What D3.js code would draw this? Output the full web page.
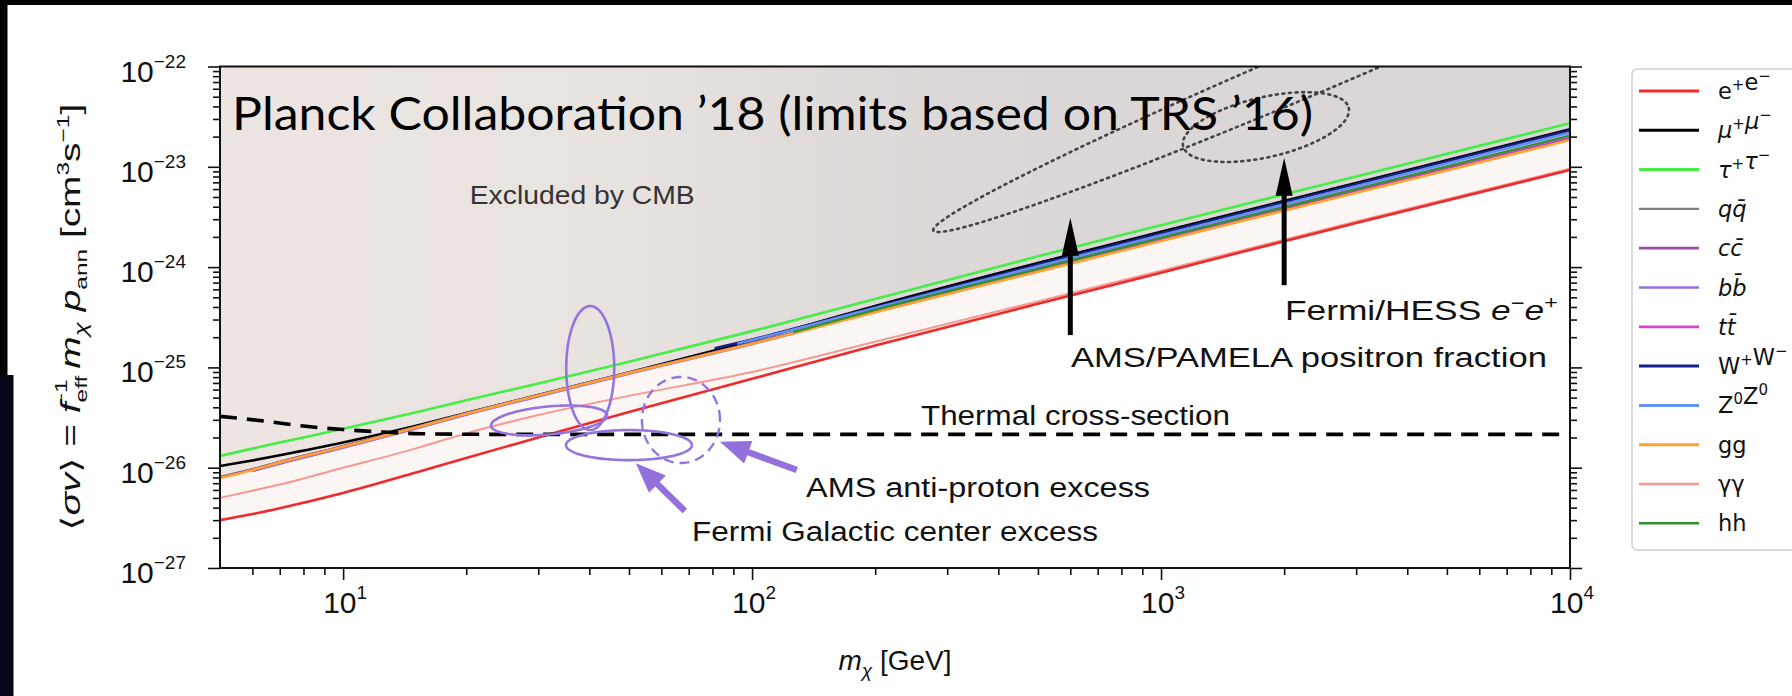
<!DOCTYPE html>
<html><head><meta charset="utf-8">
<script src="https://cdn.jsdelivr.net/npm/d3@7"></script>
<style>body{margin:0;background:#fff;} svg{display:block;}</style>
</head><body>
<svg id="c" width="1792" height="696"></svg>
<script>
// ---------------- DATA ----------------
const massGrid = [5, 6, 7, 10, 15, 20, 30, 50, 100, 200, 500, 1000, 3000, 10000];
const eeValues     = [3.0e-27, 3.45e-27, 3.95e-27, 5.6e-27, 8.9e-27, 1.25e-26, 2.0e-26, 3.6e-26, 7.7e-26, 1.65e-25, 4.3e-25, 8.8e-25, 2.75e-24, 9.3e-24];
const mumuValues   = [1.04e-26, 1.18e-26, 1.33e-26, 1.78e-26, 2.6e-26, 3.5e-26, 5.3e-26, 8.9e-26, 1.85e-25, 4.1e-25, 1.1e-24, 2.25e-24, 6.9e-24, 2.37e-23];
const tautauValues = [1.31e-26, 1.55e-26, 1.78e-26, 2.45e-26, 3.55e-26, 4.7e-26, 6.9e-26, 1.14e-25, 2.3e-25, 4.8e-25, 1.28e-24, 2.62e-24, 8.0e-24, 2.72e-23];
const qqValues     = [8.1e-27, 9.7e-27, 1.15e-26, 1.65e-26, 2.55e-26, 3.5e-26, 5.35e-26, 8.9e-26, 1.75e-25, 3.65e-25, 9.4e-25, 1.9e-24, 5.8e-24, 1.95e-23];
const ccValues     = [8.0e-27, 9.6e-27, 1.14e-26, 1.64e-26, 2.52e-26, 3.47e-26, 5.3e-26, 8.85e-26, 1.74e-25, 3.6e-25, 9.3e-25, 1.88e-24, 5.75e-24, 1.93e-23];
const ggValues     = [7.9e-27, 9.5e-27, 1.13e-26, 1.62e-26, 2.5e-26, 3.45e-26, 5.25e-26, 8.8e-26, 1.72e-25, 3.55e-25, 9.0e-25, 1.82e-24, 5.5e-24, 1.85e-23];
const gamgamValues = [5.0e-27, 5.9e-27, 6.8e-27, 1.0e-26, 1.55e-26, 2.2e-26, 3.35e-26, 5.2e-26, 9.0e-26, 1.8e-25, 4.55e-25, 9.2e-25, 2.85e-24, 9.6e-24];
const bbMass   = [6, 7, 10, 15, 20, 30, 50, 100, 200, 500, 1000, 3000, 10000];
const bbValues = [9.2e-27, 1.09e-26, 1.57e-26, 2.43e-26, 3.35e-26, 5.1e-26, 8.6e-26, 1.7e-25, 3.6e-25, 9.5e-25, 1.95e-24, 6.0e-24, 2.0e-23];
const ttMass   = [175, 200, 300, 500, 1000, 3000, 10000];
const ttValues = [3.3e-25, 3.8e-25, 5.7e-25, 9.7e-25, 1.97e-24, 6.0e-24, 2.0e-23];
const wwMass   = [81, 100, 200, 500, 1000, 3000, 10000];
const wwValues = [1.55e-25, 1.9e-25, 4.0e-25, 1.06e-24, 2.18e-24, 6.7e-24, 2.3e-23];
const zzMass   = [92, 100, 200, 500, 1000, 3000, 10000];
const zzValues = [1.72e-25, 1.87e-25, 3.9e-25, 1.02e-24, 2.08e-24, 6.4e-24, 2.19e-23];
const hhMass   = [126, 200, 500, 1000, 3000, 10000];
const hhValues = [2.25e-25, 3.75e-25, 9.6e-25, 1.96e-24, 6.0e-24, 2.05e-23];

const thermalMass   = [5, 6.5, 8, 10, 12.5, 15.5, 24, 10000];
const thermalValues = [3.25e-26, 2.9e-26, 2.6e-26, 2.4e-26, 2.27e-26, 2.18e-26, 2.15e-26, 2.15e-26];

// legend labels: [base, superscript] pairs
const channelLabels = [
  [["e", "+"], ["e", "\u2212"]], [["\u03BC", "+"], ["\u03BC", "\u2212"]], [["\u03C4", "+"], ["\u03C4", "\u2212"]],
  [["qq\u0304", ""]], [["cc\u0304", ""]], [["bb\u0304", ""]], [["tt\u0304", ""]],
  [["W", "+"], ["W", "\u2212"]], [["Z", "0"], ["Z", "0"]], [["gg", ""]], [["\u03B3\u03B3", ""]], [["hh", ""]]
];

// excess regions: centre (mass, <sigma v>) and two semi-axes in decades (log10 m, log10 sigma v)
const ellipseNames       = ["gcTall", "gcWide", "gcLow", "pbar", "positron", "electron"];
const ellipseCenterMass  = [40.2, 31.9, 50.0, 67.0, 2445, 1805];
const ellipseCenterSigma = [9.86e-26, 2.96e-26, 1.68e-26, 2.99e-26, 1e-22, 2.49e-23];
const ellipseAxis1 = [[0.0587, 0], [0.142, 0.05], [0.154, 0], [0.0954, 0], [0.945, 1.636], [0.2025, 0.1906]];
const ellipseAxis2 = [[0, 0.618], [0, 0.14], [0, 0.15], [0, 0.429], [0.0229, -0.2203], [0.0165, -0.2913]];

// arrows (tail -> tip) in data coordinates
const arrowNames      = ["positron", "electron", "pbar", "gc"];
const arrowTailMass   = [600, 2000, 128.7, 68.5];
const arrowTailSigma  = [2.1e-25, 6.6e-25, 9.5e-27, 3.7e-27];
const arrowTipMass    = [600, 2000, 83.5, 52.0];
const arrowTipSigma   = [3.1e-24, 1.23e-23, 1.81e-26, 1.11e-26];

// annotation texts anchored in data coordinates (left, baseline)
const noteTexts = ["Excluded by CMB", "Thermal cross-section", "AMS/PAMELA positron fraction", "AMS anti-proton excess", "Fermi Galactic center excess"];
const noteMass  = [20.4, 258.8, 602, 135.5, 71.3];
const noteSigma = [4.3e-24, 2.67e-26, 1.01e-25, 5.1e-27, 1.86e-27];

const xMajorTicks = [10, 100, 1000, 10000];
const yMajorTicks = [1e-27, 1e-26, 1e-25, 1e-24, 1e-23, 1e-22];

// ---------------- DRAWING ----------------
const svg = d3.select("#c");
const W = 1792, H = 696;
const FONT = "'Liberation Sans', 'DejaVu Sans', Arial, sans-serif";

const x = d3.scaleLog().domain([5, 1e4]).range([220, 1570]);
const y = d3.scaleLog().domain([1e-27, 1e-22]).range([568, 66.5]);
const [x0, x1] = x.range(); const [yb, yt] = y.range();

svg.append("rect").attr("width", W).attr("height", H).attr("fill", "#fff");
// slide frame decorations
svg.append("rect").attr("x", 0).attr("y", 0).attr("width", W).attr("height", 5).attr("fill", "#000");
svg.append("rect").attr("x", 0).attr("y", 0).attr("width", 7.5).attr("height", 375).attr("fill", "#000");
svg.append("rect").attr("x", 0).attr("y", 375).attr("width", 13.5).attr("height", H - 375).attr("fill", "#07071a");

const defs = svg.append("defs");
defs.append("clipPath").attr("id", "plotclip").append("rect")
  .attr("x", x0).attr("y", yt).attr("width", x1 - x0).attr("height", yb - yt);
const grad = defs.append("linearGradient").attr("id", "gray").attr("gradientUnits", "userSpaceOnUse")
  .attr("x1", x0).attr("x2", x1).attr("y1", 0).attr("y2", 0);
[[0, "#ece5e2"], [0.28, "#e9e3e0"], [0.42, "#e1dcda"], [0.55, "#dcd8d7"], [1, "#dad6d6"]]
  .forEach(([o, c]) => grad.append("stop").attr("offset", o).attr("stop-color", c));

const plot = svg.append("g").attr("clip-path", "url(#plotclip)");

const gridRows = massGrid.map((m, i) => ({ m, ee: eeValues[i], gg: ggValues[i] }));
const curve = d3.curveMonotoneX;
// excluded region (above gg) and band down to e+e-
plot.append("path").datum(gridRows)
  .attr("d", d3.area().curve(curve).x(d => x(d.m)).y0(d => y(d.gg)).y1(() => y(1e-22)))
  .attr("fill", "url(#gray)");
plot.append("path").datum(gridRows)
  .attr("d", d3.area().curve(curve).x(d => x(d.m)).y0(d => y(d.ee)).y1(d => y(d.gg)))
  .attr("fill", "#fbf5f4");

const series = [
  { key: "ee", mass: massGrid, vals: eeValues, color: "#f02a2a", w: 2.6 },
  { key: "mumu", mass: massGrid, vals: mumuValues, color: "#000000", w: 2.6 },
  { key: "tautau", mass: massGrid, vals: tautauValues, color: "#45ee45", w: 2.6 },
  { key: "qq", mass: massGrid, vals: qqValues, color: "#808080", w: 2 },
  { key: "cc", mass: massGrid, vals: ccValues, color: "#9c4aa8", w: 2.4 },
  { key: "bb", mass: bbMass, vals: bbValues, color: "#9370db", w: 2 },
  { key: "tt", mass: ttMass, vals: ttValues, color: "#d445d4", w: 2.4 },
  { key: "ww", mass: wwMass, vals: wwValues, color: "#17208a", w: 2.6 },
  { key: "zz", mass: zzMass, vals: zzValues, color: "#6490ee", w: 2.6 },
  { key: "gg", mass: massGrid, vals: ggValues, color: "#ffa030", w: 2.6 },
  { key: "gamgam", mass: massGrid, vals: gamgamValues, color: "#f49a92", w: 2 },
  { key: "hh", mass: hhMass, vals: hhValues, color: "#2f922f", w: 2.2 }
];
series.forEach((s, i) => s.label = channelLabels[i]);

const line = d3.line().x(d => x(d[0])).y(d => y(d[1]));
const smooth = d3.line().curve(curve).x(d => x(d[0])).y(d => y(d[1]));
// draw order: legend order, with e+e- on top
const drawOrder = series.slice(1).concat([series[0]]);
drawOrder.forEach(s => {
  plot.append("path").datum(s.mass.map((m, i) => [m, s.vals[i]]))
    .attr("d", smooth).attr("fill", "none").attr("stroke", s.color).attr("stroke-width", s.w);
});

// thermal cross-section
plot.append("path").datum(thermalMass.map((m, i) => [m, thermalValues[i]]))
  .attr("d", smooth).attr("fill", "none").attr("stroke", "#000").attr("stroke-width", 3.6)
  .attr("stroke-dasharray", "17 10");

// ellipses
const ellStyle = {
  gcTall: { stroke: "#9474de", w: 2.6, dash: null },
  gcWide: { stroke: "#9474de", w: 2.6, dash: null },
  gcLow: { stroke: "#9474de", w: 2.6, dash: null },
  pbar: { stroke: "#9474de", w: 2.4, dash: "10 6" },
  positron: { stroke: "#444", w: 2.6, dash: "2 4.6" },
  electron: { stroke: "#444", w: 2.6, dash: "2 4.6" }
};
ellipseNames.forEach((name, k) => {
  const cx = Math.log10(ellipseCenterMass[k]), cy = Math.log10(ellipseCenterSigma[k]);
  const a = ellipseAxis1[k], b = ellipseAxis2[k];
  const pts = d3.range(0, 361, 2).map(t => {
    const r = t * Math.PI / 180;
    return [Math.pow(10, cx + a[0] * Math.cos(r) + b[0] * Math.sin(r)),
            Math.pow(10, cy + a[1] * Math.cos(r) + b[1] * Math.sin(r))];
  });
  const st = ellStyle[name];
  plot.append("path").datum(pts).attr("d", line).attr("fill", "none")
    .attr("stroke", st.stroke).attr("stroke-width", st.w)
    .attr("stroke-dasharray", st.dash).attr("stroke-linecap", st.dash && st.dash.startsWith("2") ? "round" : "butt");
});

// arrows
const arrowStyle = {
  positron: { c: "#000", sw: 5, hl: 38, hw: 17 },
  electron: { c: "#000", sw: 5, hl: 38, hw: 17 },
  pbar: { c: "#9370db", sw: 6.5, hl: 30, hw: 24 },
  gc: { c: "#9370db", sw: 6.5, hl: 30, hw: 24 }
};
arrowNames.forEach((name, k) => {
  const st = arrowStyle[name];
  const ax0 = x(arrowTailMass[k]), ay0 = y(arrowTailSigma[k]);
  const ax1 = x(arrowTipMass[k]), ay1 = y(arrowTipSigma[k]);
  const L = Math.hypot(ax1 - ax0, ay1 - ay0), ux = (ax1 - ax0) / L, uy = (ay1 - ay0) / L;
  const bx = ax1 - ux * st.hl, by = ay1 - uy * st.hl, px = -uy, py = ux;
  svg.append("line").attr("x1", ax0).attr("y1", ay0).attr("x2", bx + ux * 2).attr("y2", by + uy * 2)
    .attr("stroke", st.c).attr("stroke-width", st.sw);
  svg.append("path").attr("d", `M${ax1},${ay1}L${bx + px * st.hw / 2},${by + py * st.hw / 2}L${bx - px * st.hw / 2},${by - py * st.hw / 2}Z`)
    .attr("fill", st.c);
});

// annotation texts
const noteStyle = [
  { size: 26, len: 225, color: "#333" },
  { size: 27, len: 309, color: "#111" },
  { size: 27, len: 476, color: "#111" },
  { size: 27, len: 344, color: "#111" },
  { size: 27, len: 406, color: "#111" }
];
noteTexts.forEach((t, k) => {
  svg.append("text").attr("x", x(noteMass[k])).attr("y", y(noteSigma[k]))
    .attr("font-family", FONT).attr("font-size", noteStyle[k].size).attr("fill", noteStyle[k].color)
    .attr("textLength", noteStyle[k].len).attr("lengthAdjust", "spacingAndGlyphs").text(t);
});
// Fermi/HESS e-e+ (with italic symbols)
{
  const t = svg.append("text").attr("x", x(2009)).attr("y", y(2.97e-25))
    .attr("font-family", FONT).attr("font-size", 27).attr("fill", "#111")
    .attr("textLength", 273).attr("lengthAdjust", "spacingAndGlyphs");
  t.append("tspan").text("Fermi/HESS ");
  t.append("tspan").attr("font-style", "italic").text("e");
  t.append("tspan").attr("font-size", 18).attr("dy", -11).text("\u2212");
  t.append("tspan").attr("font-style", "italic").attr("dy", 11).text("e");
  t.append("tspan").attr("font-size", 18).attr("dy", -11).text("+");
}
// title
svg.append("text").attr("x", x(5.35)).attr("y", y(2.33e-23))
  .attr("font-family", "Lato, 'Open Sans', sans-serif").attr("font-size", 46).attr("fill", "#000")
  .attr("textLength", 1081).attr("lengthAdjust", "spacingAndGlyphs")
  .text("Planck Collaboration \u201918 (limits based on TRS \u201916)");

// ---------------- AXES ----------------
const minorX = x.ticks().filter(v => !xMajorTicks.includes(v) && v > 5);
const minorY = y.ticks().filter(v => !yMajorTicks.some(t => Math.abs(t - v) / t < 1e-6));
function tickStyle(g) { g.select(".domain").remove(); g.selectAll("line").attr("stroke", "#111").attr("stroke-width", 1.6); }
svg.append("g").attr("transform", `translate(0,${yb})`).call(d3.axisBottom(x).tickValues(xMajorTicks).tickSize(12).tickFormat("")).call(tickStyle);
svg.append("g").attr("transform", `translate(0,${yb})`).call(d3.axisBottom(x).tickValues(minorX).tickSize(7).tickFormat("")).call(tickStyle);
svg.append("g").attr("transform", `translate(${x0},0)`).call(d3.axisLeft(y).tickValues(yMajorTicks).tickSize(12).tickFormat("")).call(tickStyle);
svg.append("g").attr("transform", `translate(${x0},0)`).call(d3.axisLeft(y).tickValues(minorY).tickSize(7).tickFormat("")).call(tickStyle);
svg.append("g").attr("transform", `translate(${x1},0)`).call(d3.axisRight(y).tickValues(yMajorTicks).tickSize(12).tickFormat("")).call(tickStyle);
svg.append("g").attr("transform", `translate(${x1},0)`).call(d3.axisRight(y).tickValues(minorY).tickSize(7).tickFormat("")).call(tickStyle);
svg.append("rect").attr("x", x0).attr("y", yt).attr("width", x1 - x0).attr("height", yb - yt)
  .attr("fill", "none").attr("stroke", "#111").attr("stroke-width", 2);

// tick labels
yMajorTicks.forEach(v => {
  const e = Math.round(Math.log10(v));
  const t = svg.append("text").attr("x", 186).attr("y", y(v) + 15).attr("text-anchor", "end")
    .attr("font-family", FONT).attr("font-size", 30).attr("fill", "#111");
  t.append("tspan").text("10");
  t.append("tspan").attr("font-size", 19).attr("dy", -14).text("\u2212" + Math.abs(e));
});
xMajorTicks.forEach(v => {
  const e = Math.round(Math.log10(v));
  const t = svg.append("text").attr("x", x(v) + 2).attr("y", 613).attr("text-anchor", "middle")
    .attr("font-family", FONT).attr("font-size", 30).attr("fill", "#111");
  t.append("tspan").text("10");
  t.append("tspan").attr("font-size", 19).attr("dy", -14).text(String(e));
});

// axis titles
{
  const t = svg.append("text").attr("x", (x0 + x1) / 2).attr("y", 670).attr("text-anchor", "middle")
    .attr("font-family", FONT).attr("font-size", 28).attr("fill", "#111");
  t.append("tspan").attr("font-style", "italic").text("m");
  t.append("tspan").attr("font-style", "italic").attr("font-size", 19).attr("dy", 7).text("\u03C7");
  t.append("tspan").attr("dy", -7).text(" [GeV]");
}
{
  const g = svg.append("g").attr("transform", `translate(80,${(yt + yb) / 2}) rotate(-90)`);
  const t = g.append("text").attr("x", 0).attr("y", 0).attr("text-anchor", "middle")
    .attr("font-family", FONT).attr("font-size", 27).attr("fill", "#111")
    .attr("textLength", 427).attr("lengthAdjust", "spacingAndGlyphs");
  t.append("tspan").text("\u27E8");
  t.append("tspan").attr("font-style", "italic").text("\u03C3v");
  t.append("tspan").text("\u27E9 = ");
  t.append("tspan").attr("font-style", "italic").text("f");
  t.append("tspan").attr("font-size", 17).attr("dy", 7).text("eff");
  t.append("tspan").attr("font-size", 17).attr("dy", -20).attr("dx", -22).text("\u22121");
  t.append("tspan").attr("dy", 13).text(" ");
  t.append("tspan").attr("font-style", "italic").text("m");
  t.append("tspan").attr("font-style", "italic").attr("font-size", 18).attr("dy", 7).text("\u03C7");
  t.append("tspan").attr("dy", -7).text(" ");
  t.append("tspan").attr("font-style", "italic").text("p");
  t.append("tspan").attr("font-size", 17).attr("dy", 7).text("ann");
  t.append("tspan").attr("dy", -7).text(" [cm");
  t.append("tspan").attr("font-size", 17).attr("dy", -11).text("3");
  t.append("tspan").attr("dy", 11).text("s");
  t.append("tspan").attr("font-size", 17).attr("dy", -11).text("\u22121");
  t.append("tspan").attr("dy", 11).text("]");
}

// ---------------- LEGEND ----------------
const italicKeys = new Set(["mumu", "tautau", "qq", "cc", "bb", "tt"]);
svg.append("rect").attr("x", 1632).attr("y", 69).attr("width", 200).attr("height", 481).attr("rx", 5)
  .attr("fill", "#fff").attr("stroke", "#cfcfcf").attr("stroke-width", 1.5);
series.forEach((s, i) => {
  const ly = 91 + i * 39.3;
  svg.append("line").attr("x1", 1639).attr("x2", 1699).attr("y1", ly).attr("y2", ly)
    .attr("stroke", s.color).attr("stroke-width", s.w + 0.4);
  const t = svg.append("text").attr("x", 1718).attr("y", ly + 8).attr("font-family", "'DejaVu Sans', sans-serif")
    .attr("font-size", 22.5).attr("fill", "#111").attr("font-style", italicKeys.has(s.key) ? "italic" : "normal");
  s.label.forEach(([base, sup]) => {
    t.append("tspan").text(base);
    if (sup) {
      t.append("tspan").attr("font-size", 15).attr("dy", -9).attr("font-style", "normal").text(sup);
      t.append("tspan").attr("dy", 9).text("");
    }
  });
});
</script>
</body></html>
